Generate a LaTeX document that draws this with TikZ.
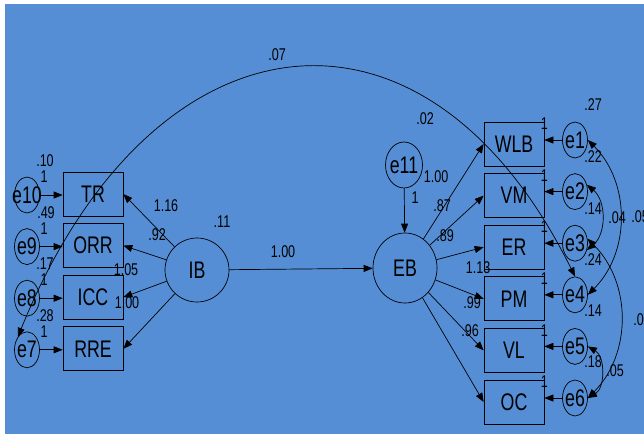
\documentclass[tikz,border=0pt]{standalone}
\usepackage{fontspec}
\setmainfont{Liberation Sans}[FakeStretch=0.74]
\usepackage{tikz}
\usetikzlibrary{arrows.meta, shapes.geometric, positioning}
\definecolor{bgblue}{RGB}{85,142,213}

\begin{document}
\begin{tikzpicture}
    [x=1pt, y=-1pt, line width=0.7pt,
    node distance=51.6pt,
    observed/.style={rectangle, draw, minimum width=60pt, minimum height=44pt, inner sep=0pt,
    font=\fontsize{24}{24}\selectfont},
    latent/.style={ellipse, draw, minimum width=64pt, minimum height=64pt, inner sep=0pt,
    font=\fontsize{24}{24}\selectfont},
    error/.style={ellipse, draw, minimum width=25pt, minimum height=36pt, inner sep=0pt,
    font=\fontsize{24}{24}\selectfont},
    num/.style={inner sep=0pt, text height=12pt, text depth=0pt, font=\fontsize{17}{17}\selectfont},
    arrow/.style={->, >={Triangle[length=9pt, width=7pt]}},
    cov/.style={<->, >={Triangle[length=9pt, width=7pt]}}]
    \useasboundingbox (0,0) rectangle (644,434);
    \fill [bgblue] (5,4) rectangle (644,434);
    \clip (0,0) rectangle (644,434);

    % IB and its indicators
    \node [observed] (TR) at (93,194) {TR};
    \node [observed, below of=TR] (ORR) {ORR};
    \node [observed, below of=ORR] (ICC) {ICC};
    \node [observed, below of=ICC] (RRE) {RRE};
    \node [error] (e10) at (27,195) {\makebox[0pt]{e10}};
    \node [error, below of=e10] (e9) {\makebox[0pt]{e9}};
    \node [error, below of=e9] (e8) {\makebox[0pt]{e8}};
    \node [error, below of=e8] (e7) {\makebox[0pt]{e7}};
    \node [latent] (IB) at (197,270) {IB};

    % EB and its indicators
    \node [latent, minimum height=70pt] (EB) at (405,268) {EB};
    \node [error, minimum width=37pt, minimum height=46pt] (e11) at (404,165) {\makebox[0pt]{e11}};
    \node [observed] (WLB) at (514,144) {WLB};
    \node [observed, below of=WLB] (VM) {VM};
    \node [observed, below of=VM] (ER) {ER};
    \node [observed, below of=ER] (PM) {PM};
    \node [observed, below of=PM] (VL) {VL};
    \node [observed, below of=VL] (OC) {OC};
    \node [error] (e1) at (575,140) {\makebox[0pt]{e1}};
    \node [error, below of=e1] (e2) {\makebox[0pt]{e2}};
    \node [error, below of=e2] (e3) {\makebox[0pt]{e3}};
    \node [error, below of=e3] (e4) {\makebox[0pt]{e4}};
    \node [error, below of=e4] (e5) {\makebox[0pt]{e5}};
    \node [error, below of=e5] (e6) {\makebox[0pt]{e6}};

    \draw [arrow] (e10) -- (e10 -| TR.west);
    \draw [arrow] (e9) -- (e9 -| ORR.west);
    \draw [arrow] (e8) -- (e8 -| ICC.west);
    \draw [arrow] (e7) -- (e7 -| RRE.west);
    \draw [arrow] (IB) -- (TR.east);
    \draw [arrow] (IB) -- (ORR.east);
    \draw [arrow] (IB) -- (ICC.east);
    \draw [arrow] (IB) -- (RRE.east);
    \draw [arrow] (IB) -- (EB);
    \draw [arrow] (e11) -- (EB);
    \draw [arrow] (EB) -- (WLB.west);
    \draw [arrow] (EB) -- (VM.west);
    \draw [arrow] (EB) -- (ER.west);
    \draw [arrow] (EB) -- (PM.west);
    \draw [arrow] (EB) -- (VL.west);
    \draw [arrow] (EB) -- (OC.west);
    \draw [arrow] (e1) -- (e1 -| WLB.east);
    \draw [arrow] (e2) -- (e2 -| VM.east);
    \draw [arrow] (e3) -- (e3 -| ER.east);
    \draw [arrow] (e4) -- (e4 -| PM.east);
    \draw [arrow] (e5) -- (e5 -| VL.east);
    \draw [arrow] (e6) -- (e6 -| OC.east);

    % error covariances
    \draw [cov] (e7.125) .. controls (150,10) and (423,-30) .. (e4.north);
    \draw [cov] (e1.east) to [bend left=45] (e4.east);
    \draw [cov] (e2.30) to [bend left=50] (e3.-30);
    \draw [cov] (e3.20) to [bend left=45] (e6.east);
    \draw [cov] (e5.east) to [bend left=60] (e6.east);

    % estimates
    \node [num] (v10) at (45,160) {.10};
    \node [num] (v9) at (46,212) {.49};
    \node [num] (v8) at (45,263) {.17};
    \node [num] (v7) at (45,315) {.28};
    \node [num] (f10) at (44,176) {1};
    \node [num] (f9) at (44,228) {1};
    \node [num] (f8) at (44,279) {1};
    \node [num] (f7) at (44,331) {1};
    \node [num] (l1) at (166,205) {1.16};
    \node [num] (l2) at (157,234) {.92};
    \node [num] (l3) at (126,269) {1.05};
    \node [num] (l4) at (127,302) {1.00};
    \node [num] (vib) at (222,221) {.11};
    \node [num] (path) at (283,251) {1.00};
    \node [num] (f11) at (415,197) {1};
    \node [num] (k1) at (436,176) {1.00};
    \node [num] (k2) at (442,205) {.87};
    \node [num] (k3) at (445,235) {.89};
    \node [num] (k4) at (478,267) {1.13};
    \node [num] (k5) at (472,302) {.99};
    \node [num] (k6) at (470,330) {.96};
    \node [num] (f1) at ([yshift=-2pt]WLB.north east) {1};
    \node [num] (f2) at ([yshift=-2pt]VM.north east) {1};
    \node [num] (f3) at ([yshift=-2pt]ER.north east) {1};
    \node [num] (f4) at ([yshift=-2pt]PM.north east) {1};
    \node [num] (f5) at ([yshift=-2pt]VL.north east) {1};
    \node [num] (f6) at ([yshift=-2pt]OC.north east) {1};
    \node [num] (v1) at (593,104) {.27};
    \node [num] (v2) at (593,156) {.22};
    \node [num] (v3) at (593,208) {.14};
    \node [num] (v4) at (593,259) {.24};
    \node [num] (v5) at (593,310) {.14};
    \node [num] (v6) at (593,361) {.18};
    \node [num] (c14) at (617,217) {.04};
    \node [num] (c15) at (640,216) {.05};
    \node [num] (c36) at (642,319) {.04};
    \node [num] (c56) at (615,370) {.05};
    \node [num] (c74) at (277,54) {.07};
    \node [num] (c74b) at (425,118) {.02};
\end{tikzpicture}
\end{document}
